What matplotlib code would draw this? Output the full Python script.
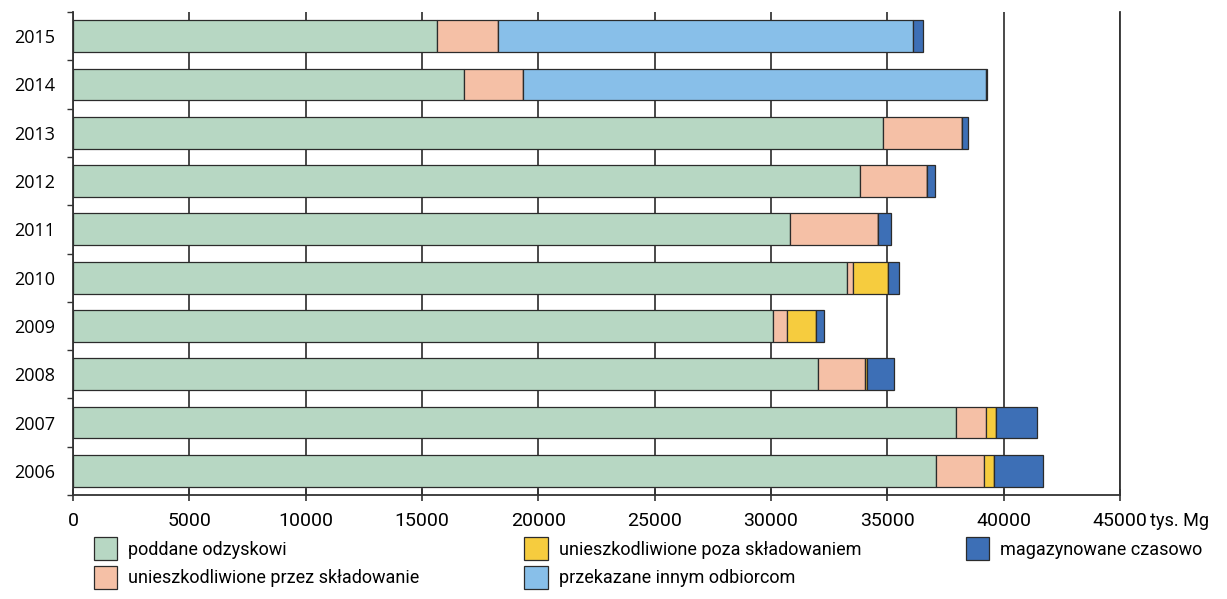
import matplotlib
matplotlib.use('Agg')
import matplotlib.pyplot as plt
import numpy as np

years = ['2006', '2007', '2008', '2009', '2010', '2011', '2012', '2013', '2014', '2015']
odzysk = [37080, 37970, 32000, 30090, 33260, 30820, 33820, 34800, 16790, 15660]
skladowanie = [2080, 1280, 2020, 610, 260, 3780, 2880, 3420, 2570, 2610]
poza_skladowaniem = [430, 420, 100, 1240, 1490, 0, 0, 0, 0, 0]
innym_odbiorcom = [0, 0, 0, 0, 0, 0, 0, 0, 19860, 17850]
magazynowane = [2100, 1770, 1180, 330, 490, 570, 330, 250, 80, 410]

series = [
    ('poddane odzyskowi', odzysk, '#b7d7c3'),
    ('unieszkodliwione przez składowanie', skladowanie, '#f5c0a6'),
    ('unieszkodliwione poza składowaniem', poza_skladowaniem, '#f6cc3e'),
    ('przekazane innym odbiorcom', innym_odbiorcom, '#88bfe9'),
    ('magazynowane czasowo', magazynowane, '#3d6fb6'),
]

font = ['Roboto', 'DejaVu Sans']

fig = plt.figure(figsize=(12.27, 5.99), dpi=100)
ax = fig.add_axes([73 / 1227, 1 - 495 / 599, (1120 - 73) / 1227, (495 - 12) / 599])

y = np.arange(len(years))
left = np.zeros(len(years))
for label, vals, color in series:
    vals = np.array(vals, dtype=float)
    ax.barh(y, vals, left=left, height=0.66, color=color, edgecolor='#2b2b2b',
            linewidth=0.9, label=label, zorder=3)
    left += vals

ax.set_xlim(0, 45000)
ax.set_ylim(-0.5, 9.5)
ax.set_xticks(np.arange(0, 45001, 5000))
ax.set_xticklabels([str(v) for v in range(0, 45001, 5000)], family=font, fontsize=14)
ax.set_yticks(y)
ax.set_yticklabels(years, family=['Open Sans', 'DejaVu Sans'], fontsize=13)
ax.set_yticks(np.arange(-0.5, 10, 1), minor=True)
ax.tick_params(axis='y', which='major', length=0, pad=13)
ax.tick_params(axis='y', which='minor', length=4, width=1, direction='out', color='#333333')
ax.tick_params(axis='x', direction='inout', length=9, width=1.2, color='#333333', pad=8)

ax.set_axisbelow(True)
ax.xaxis.grid(True, color='#3a3a3a', linewidth=1.3)
ax.spines['top'].set_visible(False)
for s in ['left', 'right', 'bottom']:
    ax.spines[s].set_color('#333333')
    ax.spines[s].set_linewidth(1.3)

fig.text(1150 / 1227, 1 - 521 / 599, 'tys. Mg', family=font, fontsize=13, va='center')

ax.legend(loc='upper left', bbox_to_anchor=(94 / 1227, 1 - 537 / 599),
          bbox_transform=fig.transFigure, ncol=3, frameon=False,
          prop={'family': font, 'size': 13}, handlelength=1.3, handleheight=1.6,
          handletextpad=0.6, columnspacing=5.8, labelspacing=0.3, borderaxespad=0,
          borderpad=0)

fig.savefig('out.png', dpi=100)
